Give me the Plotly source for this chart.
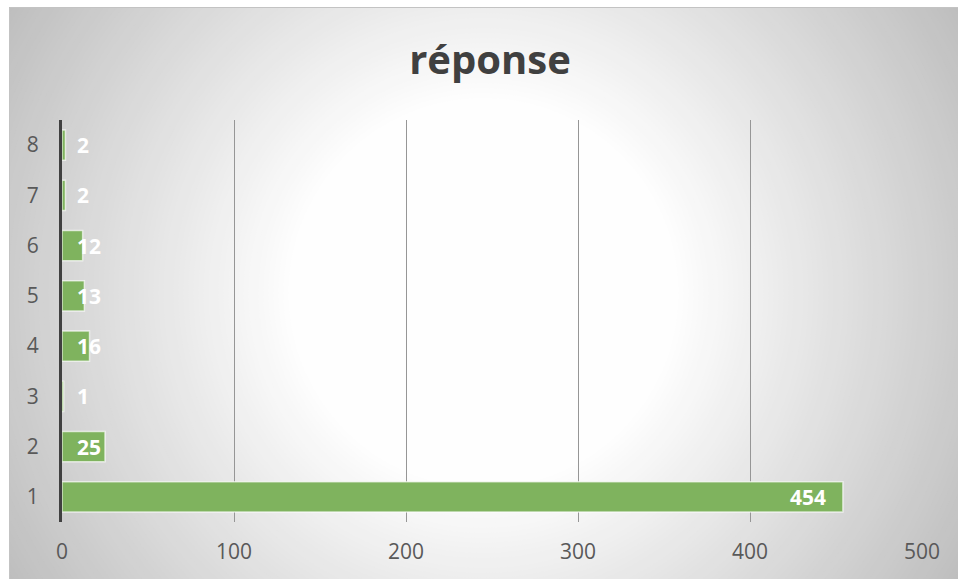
import plotly.graph_objects as go

# Survey answers: count of responses per answer code
categories = [1, 2, 3, 4, 5, 6, 7, 8]
counts = [454, 25, 1, 16, 13, 12, 2, 2]
x_ticks = [0, 100, 200, 300, 400, 500]
title_text = "réponse"

W, H = 958, 579
ML, MR, MT, MB = 62, 36, 120, 57
PW, PH = W - ML - MR, H - MT - MB
X_MAX = 500
px_per_unit = PW / X_MAX

BOX_L, BOX_T = 9, 7                      # chart frame, top-left corner
CX, CY = (BOX_L + W) / 2, (BOX_T + H) / 2  # centre of the radial fill


def to_paper_x(px):
    return (px - ML) / PW


def to_paper_y(py):
    return 1 - (py - MT) / PH


shapes = []

# radial gradient: white centre fading to grey at the corners
r_white = 187
r_max = 570
step = 5
r = r_max
while r >= r_white:
    v = 255 - 0.176 * (r - r_white)
    v = int(max(185, min(255, round(v))))
    shapes.append(dict(
        type="circle", layer="below",
        xref="paper", yref="paper",
        xsizemode="pixel", ysizemode="pixel",
        xanchor=to_paper_x(CX), yanchor=to_paper_y(CY),
        x0=-r, x1=r, y0=-r, y1=r,
        fillcolor=f"rgb({v},{v},{v})", line=dict(width=0),
    ))
    r -= step

# white page outside the chart frame (left and top strips)
shapes.append(dict(
    type="rect", layer="below", xref="paper", yref="paper",
    xsizemode="pixel", ysizemode="pixel",
    xanchor=0, yanchor=0,
    x0=-ML - 50, x1=-(ML - BOX_L), y0=-MB - 50, y1=PH + MT + 50,
    fillcolor="white", line=dict(width=0),
))
shapes.append(dict(
    type="rect", layer="below", xref="paper", yref="paper",
    xsizemode="pixel", ysizemode="pixel",
    xanchor=0, yanchor=1,
    x0=-ML - 50, x1=PW + MR + 50, y0=MT - BOX_T, y1=MT + 50,
    fillcolor="white", line=dict(width=0),
))
# frame border
shapes.append(dict(
    type="rect", layer="below", xref="paper", yref="paper",
    xsizemode="pixel", ysizemode="pixel",
    xanchor=0, yanchor=1,
    x0=-(ML - BOX_L) + 0.5, x1=PW + MR + 5,
    y0=-(PH + MB + 5), y1=MT - BOX_T - 0.5,
    fillcolor="rgba(0,0,0,0)", line=dict(color="rgb(195,195,195)", width=1),
))

fig = go.Figure()
fig.add_trace(go.Bar(
    x=counts, y=categories, orientation="h",
    marker=dict(color="rgb(127,179,94)",
                line=dict(color="rgba(255,255,255,0.65)", width=1.5)),
    hoverinfo="x+y",
))

# value labels: inside the bar end, but never left of the bar base padding
annotations = []
pad_end, pad_base, digit_w = 16, 16, 12
label_font = dict(family="Open Sans", size=21, color="white")
for c, v in zip(categories, counts):
    label = str(v)
    w = digit_w * len(label)
    if v * px_per_unit - pad_end - w >= pad_base:
        annotations.append(dict(x=v, y=c, text=f"<b>{label}</b>", showarrow=False,
                                xanchor="right", xshift=-pad_end + 1,
                                font=label_font))
    else:
        annotations.append(dict(x=0, y=c, text=f"<b>{label}</b>", showarrow=False,
                                xanchor="left", xshift=pad_base - 3,
                                font=label_font))

tick_font = dict(family="Open Sans", size=21, color="rgb(89,89,89)")

fig.update_layout(
    width=W, height=H,
    margin=dict(l=ML, r=MR, t=MT, b=MB, pad=0),
    paper_bgcolor="white", plot_bgcolor="rgba(0,0,0,0)",
    shapes=shapes, annotations=annotations,
    bargap=0.4, showlegend=False,
    title=dict(text=f"<b>{title_text}</b>", xref="container", yref="container",
               x=490 / W, y=1 - 60 / H, xanchor="center", yanchor="middle",
               font=dict(family="Open Sans", size=40, color="rgb(64,64,64)")),
    font=dict(family="Open Sans", color="rgb(89,89,89)"),
)
fig.update_xaxes(range=[0, X_MAX], tickvals=x_ticks, showgrid=True,
                 gridcolor="rgb(150,150,150)", gridwidth=1, zeroline=False,
                 showline=False, ticks="", ticklabelstandoff=15,
                 tickfont=tick_font, fixedrange=True)
fig.update_yaxes(range=[0.5, 8.5], tickvals=categories, showgrid=False,
                 zeroline=False, showline=True, linecolor="rgb(64,64,64)",
                 linewidth=3, ticks="", ticklabelstandoff=16,
                 tickfont=tick_font, fixedrange=True)

fig.write_html("out.html")
